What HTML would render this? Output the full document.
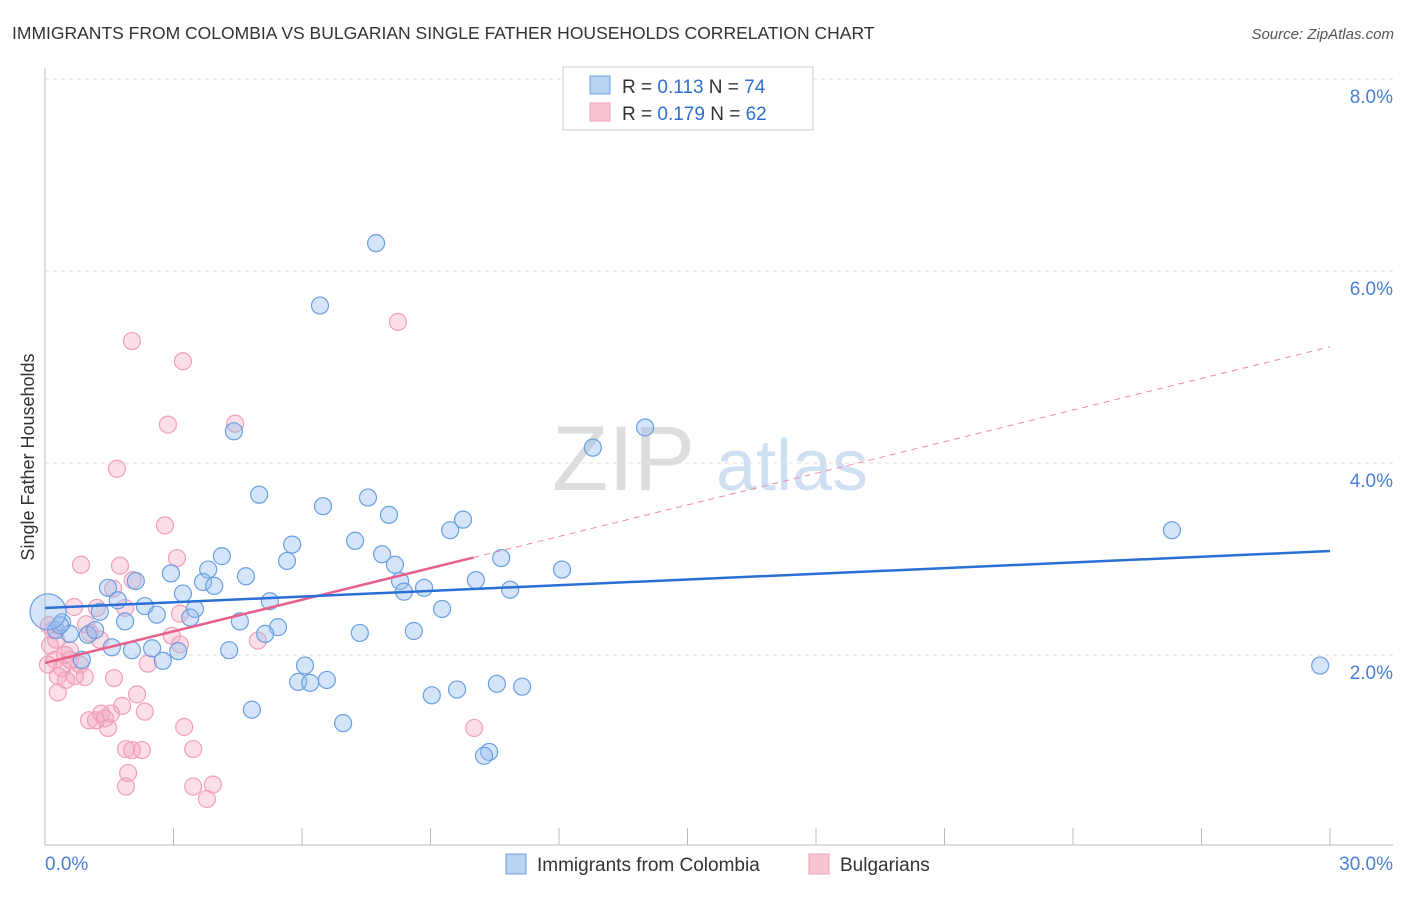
<!DOCTYPE html>
<html><head><meta charset="utf-8"><style>
body{margin:0;background:#fff;font-family:"Liberation Sans",sans-serif}
svg text{font-family:"Liberation Sans",sans-serif}
</style></head><body>
<svg id="c" width="1406" height="892" xmlns="http://www.w3.org/2000/svg">
<text x="12" y="39" font-size="17.5" fill="#333">IMMIGRANTS FROM COLOMBIA VS BULGARIAN SINGLE FATHER HOUSEHOLDS CORRELATION CHART</text>
<text x="1394" y="39" font-size="15" fill="#555" text-anchor="end" font-style="italic">Source: ZipAtlas.com</text>
<text x="34" y="457" font-size="18" fill="#333" text-anchor="middle" transform="rotate(-90 34 457)">Single Father Households</text>
<g><text x="552" y="490" font-size="92" fill="#ddd" font-family="Liberation Serif">ZIP</text><text x="716" y="490" font-size="72" fill="#cfe0f3">atlas</text></g>
<g id="grid"></g><g id="axes"></g><g id="pts"></g><g id="lines"></g>
<g>
<rect x="563" y="67" width="250" height="63" fill="#fff" stroke="#ccc"/>
<rect x="590" y="76" width="20" height="18" fill="#b9d3f3" stroke="#6a9fe0"/>
<text x="622" y="93" font-size="19" fill="#333">R = <tspan fill="#2e6fd1">0.113</tspan>   N = <tspan fill="#2e6fd1">74</tspan></text>
<rect x="590" y="103" width="20" height="18" fill="#f8c5d3" stroke="#f0a0b8"/>
<text x="622" y="120" font-size="19" fill="#333">R = <tspan fill="#2e6fd1">0.179</tspan>   N = <tspan fill="#2e6fd1">62</tspan></text>
</g>
<g>
<rect x="506" y="854" width="20" height="20" fill="#b9d3f3" stroke="#6a9fe0"/>
<text x="537" y="871" font-size="19" fill="#333">Immigrants from Colombia</text>
<rect x="809" y="854" width="20" height="20" fill="#f8c5d3" stroke="#f0a0b8"/>
<text x="840" y="871" font-size="19" fill="#333">Bulgarians</text>
</g>
</svg>
<script>
const yTicks=[2,4,6,8];
const xTickLabels=["0.0%","30.0%"];
const blueX=[7.73,6.42,14.01,12.79,4.41,5.00,6.49,7.54,8.03,9.46,9.76,7.24,5.77,5.65,4.13,7.87,8.17,10.65,12.07,2.94,3.81,4.69,3.69,3.95,2.12,1.47,8.29,8.38,8.85,10.06,10.86,1.70,2.33,3.22,3.50,5.25,2.61,3.39,1.28,1.87,4.55,9.27,5.44,5.14,7.35,8.61,0.26,0.58,1.00,0.40,1.56,2.03,2.50,3.11,4.30,0.86,2.75,6.07,5.91,6.19,6.58,4.83,9.03,9.62,10.55,11.14,6.96,10.37,10.25,26.31,29.77,0.35,1.17];
const blueY=[6.29,5.64,4.37,4.16,4.33,3.67,3.55,3.64,3.46,3.30,3.41,3.19,3.15,2.98,3.03,3.05,2.94,3.01,2.89,2.85,2.89,2.82,2.76,2.72,2.77,2.70,2.77,2.66,2.70,2.78,2.68,2.57,2.51,2.64,2.48,2.56,2.42,2.39,2.45,2.35,2.35,2.48,2.29,2.22,2.23,2.25,2.26,2.22,2.21,2.34,2.08,2.05,2.07,2.04,2.05,1.95,1.94,1.89,1.72,1.71,1.74,1.43,1.58,1.64,1.70,1.67,1.29,0.99,0.95,3.30,1.89,2.31,2.26];
const pinkX=[8.24,2.03,3.22,2.87,4.44,1.68,2.80,3.08,0.84,1.75,2.05,1.59,0.68,1.21,1.87,3.15,0.96,0.19,1.05,2.96,3.15,4.97,0.12,0.58,0.23,0.07,0.40,0.82,2.40,0.30,0.49,0.70,0.93,1.61,2.15,1.80,2.33,1.03,1.19,1.31,1.40,1.47,1.54,3.25,1.89,2.03,2.26,3.46,10.02,1.94,1.89,3.46,3.92,3.78,0.09,0.26,0.47,1.28,0.58,0.30];
const pinkY=[5.47,5.27,5.06,4.40,4.41,3.94,3.35,3.01,2.94,2.93,2.78,2.69,2.50,2.49,2.49,2.43,2.32,2.26,2.23,2.20,2.11,2.15,2.10,2.05,1.95,1.90,1.86,1.90,1.91,1.78,1.74,1.78,1.77,1.76,1.59,1.47,1.41,1.32,1.32,1.39,1.34,1.24,1.39,1.25,1.02,1.01,1.01,1.02,1.24,0.77,0.63,0.63,0.65,0.50,2.31,2.16,2.00,2.16,1.95,1.61];
const blueTrend=[2.49,3.083];
const pinkTrend=[1.917,5.21];
const pinkSolidEnd=10.0;
const NS="http://www.w3.org/2000/svg";
const X=v=>45+v/30*1285, Y=v=>847-v*96;
function mk(p,t,a){const e=document.createElementNS(NS,t);for(const k in a)e.setAttribute(k,a[k]);p.appendChild(e);return e;}
const grid=document.getElementById('grid'),axes=document.getElementById('axes'),pts=document.getElementById('pts'),lines=document.getElementById('lines');
yTicks.forEach(t=>{
 const l=mk(grid,'line',{x1:45,x2:1393,y1:Y(t),y2:Y(t),stroke:'#ddd','stroke-dasharray':'4,4'});
 
 
 const tx=mk(axes,'text',{x:1393,y:Y(t)+24,'font-size':19,fill:'#4a7fd4','text-anchor':'end'});tx.textContent=t.toFixed(1)+'%';
 
 
});
mk(axes,'line',{x1:45,x2:45,y1:68,y2:845,stroke:'#bbb'});
mk(axes,'line',{x1:45,x2:1393,y1:845,y2:845,stroke:'#bbb'});
for(let i=0;i<=10;i++){const l=mk(axes,'line',{x1:X(i*3),x2:X(i*3),y1:828,y2:845,stroke:'#bbb'});
 
 }
const xl0=mk(axes,'text',{x:45,y:870,'font-size':19,fill:'#4a7fd4'});xl0.textContent=xTickLabels[0];


const xl1=mk(axes,'text',{x:1393,y:870,'font-size':19,fill:'#4a7fd4','text-anchor':'end'});xl1.textContent=xTickLabels[1];


pinkX.forEach((x,i)=>{const c=mk(pts,'circle',{cx:X(x),cy:Y(pinkY[i]),r:8.5,fill:'rgba(244,160,185,0.35)',stroke:'#f0a0b8','stroke-width':1.2});
 
 });
blueX.forEach((x,i)=>{const c=mk(pts,'circle',{cx:X(x),cy:Y(blueY[i]),r:8.5,fill:'rgba(150,190,240,0.4)',stroke:'#6a9fe0','stroke-width':1.2});
 
 });
const big=mk(pts,'circle',{cx:X(0.07),cy:Y(2.45),r:18,fill:'rgba(150,190,240,0.4)',stroke:'#6a9fe0','stroke-width':1.2});


const pAt=x=>pinkTrend[0]+(pinkTrend[1]-pinkTrend[0])*x/30;
const pd=mk(lines,'line',{x1:X(pinkSolidEnd),y1:Y(pAt(pinkSolidEnd)),x2:X(30),y2:Y(pinkTrend[1]),stroke:'#f08aaa','stroke-width':1,'stroke-dasharray':'6,5'});


const ps=mk(lines,'line',{x1:X(0),y1:Y(pinkTrend[0]),x2:X(pinkSolidEnd),y2:Y(pAt(pinkSolidEnd)),stroke:'#e8608a','stroke-width':2.5});


const bl=mk(lines,'line',{x1:X(0),y1:Y(blueTrend[0]),x2:X(30),y2:Y(blueTrend[1]),stroke:'#2b6fd6','stroke-width':2.5});


</script>
</body></html>
